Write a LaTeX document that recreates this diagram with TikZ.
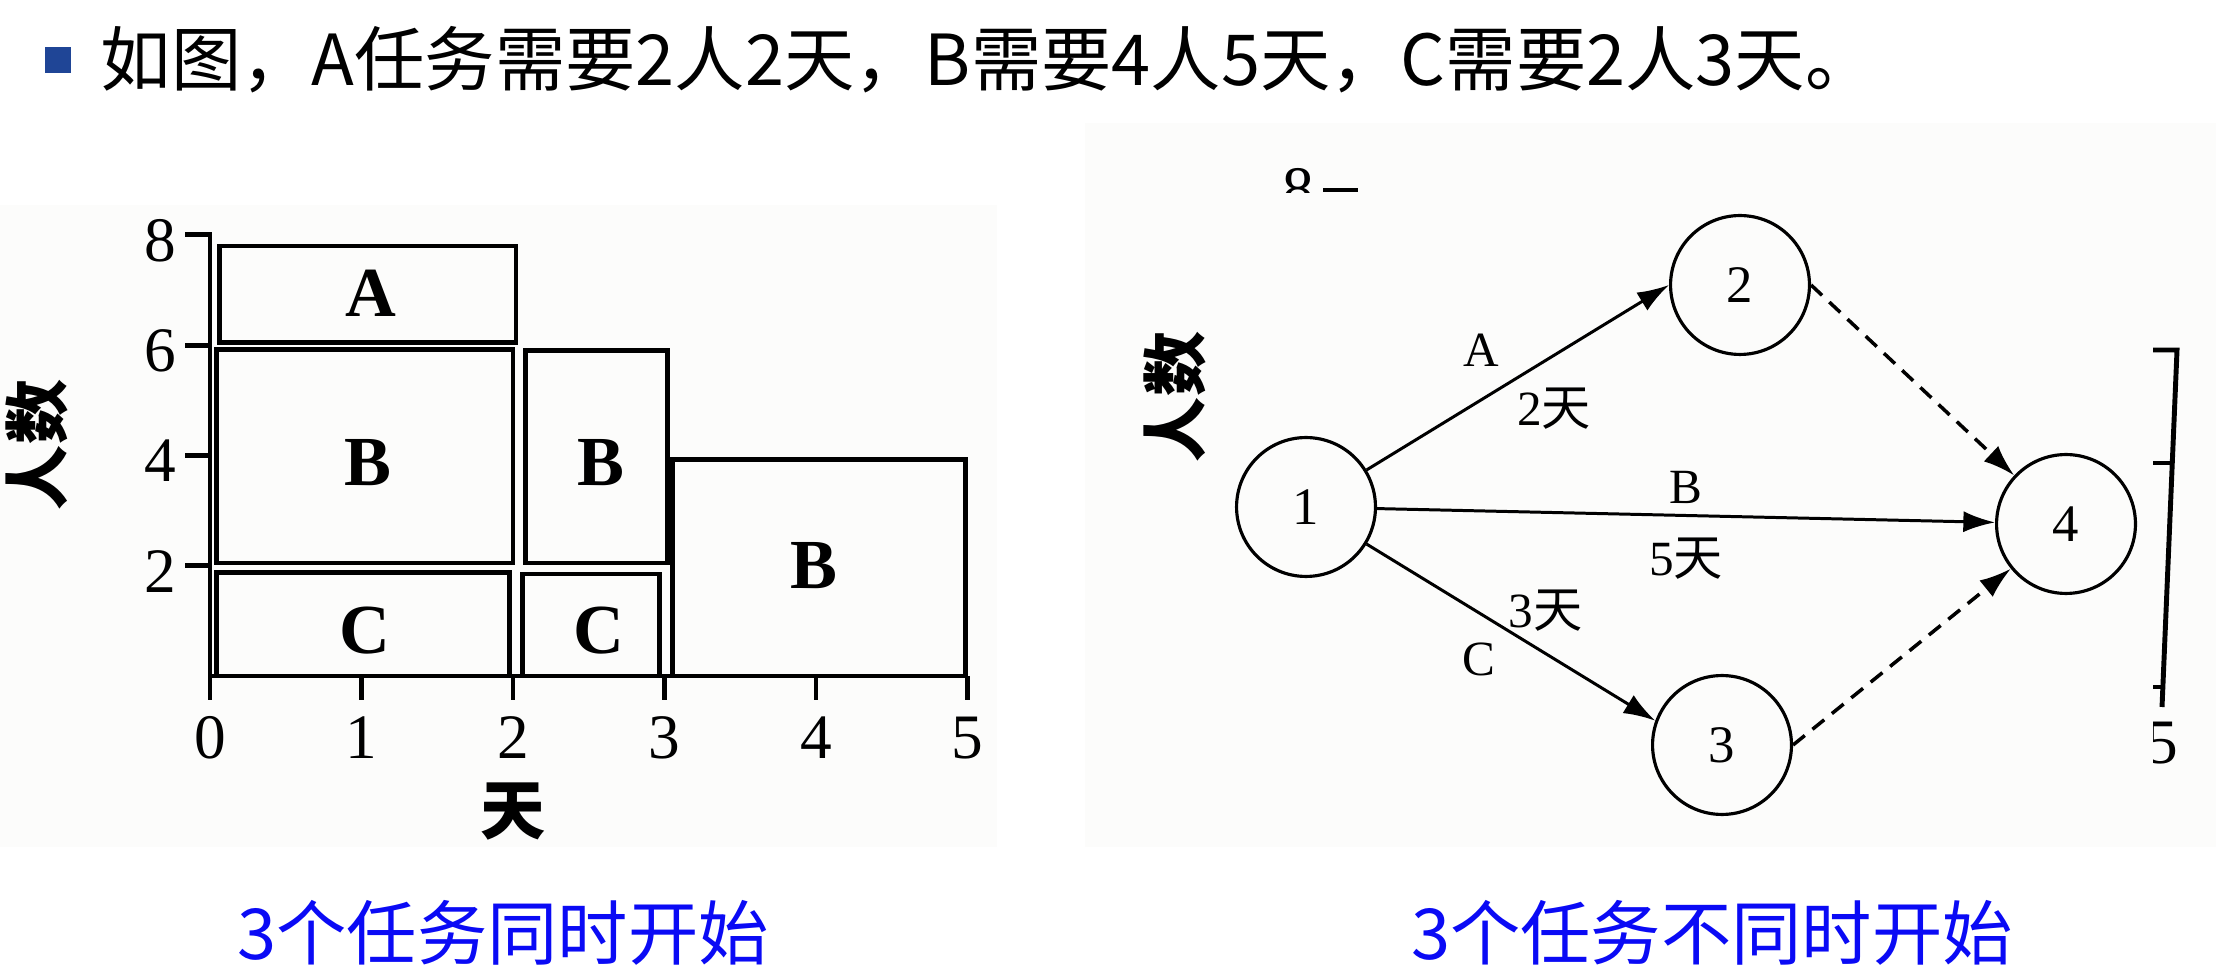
\documentclass[tikz,border=0pt]{standalone}
\usepackage{fontspec}
\setmainfont{Liberation Serif}
\newfontfamily\cjk{Noto Sans CJK SC}
\usetikzlibrary{arrows.meta,positioning}
\definecolor{bulletblue}{RGB}{31,69,150}
\definecolor{capblue}{RGB}{10,10,245}
\definecolor{scan}{RGB}{252,252,251}

\begin{document}
\begin{tikzpicture}[x=0.01cm,y=-0.01cm,>={Latex[length=9pt,width=6pt]},every node/.append style={align=center},
  heading/.style={font=\cjk\fontsize{20}{24}\selectfont, inner sep=0pt},
  caption/.style={font=\cjk\fontsize{20}{24}\selectfont, text=capblue, inner sep=0pt},
  bar/.style={draw, line width=1.4pt},
  barlbl/.style={font=\fontsize{20}{20}\selectfont\bfseries, inner sep=0pt},
  ticklbl/.style={font=\fontsize{18}{18}\selectfont, inner sep=0pt},
  axislbl/.style={font=\cjk\bfseries\fontsize{18.5}{18.5}\selectfont, inner sep=0pt},
  state/.style={circle, draw, line width=0.9pt, minimum size=39.5pt, inner sep=0pt, font=\fontsize{15}{15}\selectfont},
  lbl/.style={font=\fontsize{14}{14}\selectfont, inner sep=1pt},
  dep/.style={->, line width=0.85pt},
  dummy/.style={->, dash pattern=on 4.3pt off 2.8pt, line width=1pt}]
    \fill[scan] (0,205) rectangle (997,847);
    \fill[scan] (1085,123) rectangle (2216,847);
    \useasboundingbox (0,0) rectangle (2216,980);

    \fill[bulletblue] (45,47) rectangle (71,73);
    \node [heading, anchor=west] (title) at (100,60) {如图，A任务需要2人2天，B需要4人5天，C需要2人3天。};
    \node [caption] (capL) at (503,933) {3个任务同时开始};
    \node [caption] (capR) at (1712,933) {3个任务不同时开始};

    \begin{scope}[shift={(210,676)}, x=1.514cm, y=0.551cm]
    \draw[line width=1.4pt] (-0.165,8) -- (0,8) -- (0,-0.43);
    \draw[line width=1.4pt] (0,0) -- (5,0);
    \foreach \i in {1,...,5} \draw[line width=1.4pt] (\i,0) -- (\i,-0.43);
    \foreach \j in {2,4,6} \draw[line width=1.4pt] (-0.165,\j) -- (0,\j);
    \foreach \j in {2,4,6,8} \node [ticklbl] (y\j) at (-0.33,\j-0.1) {\j};
    \foreach \i in {0,...,5} \node [ticklbl] (x\i) at (\i,-1.12) {\i};
    \draw[bar] (0.06,6.05) rectangle (2.02,7.8);
    \draw[bar] (0.04,2.05) rectangle (2.0,5.92);
    \draw[bar] (0.04,0) rectangle (1.98,1.87);
    \draw[bar] (2.08,2.05) rectangle (3.02,5.9);
    \draw[bar] (2.06,0) rectangle (2.97,1.85);
    \draw[bar] (3.05,0) rectangle (4.99,3.92);
    \node [barlbl] (a1) at (1.06,6.95) {A};
    \node [barlbl] (b1) at (1.04,3.87) {B};
    \node [barlbl] (c1) at (1.02,0.83) {C};
    \node [barlbl] (b2) at (2.58,3.87) {B};
    \node [barlbl] (c2) at (2.57,0.83) {C};
    \node [barlbl] (b3) at (3.99,2.01) {B};
    \node [axislbl] (days) at (2.0,-2.45) {天};
    \node [axislbl, rotate=90] (people) at (-1.14,4.19) {人数};
    \end{scope}

    \node [axislbl, rotate=90] (people2) at (1175,397) {人数};
    \begin{scope}
    \clip (1270,150) rectangle (1370,193);
    \node [ticklbl] (top8) at (1298,190) {8};
    \draw[line width=1.4pt] (1323,190) -- (1358,190);
    \end{scope}
    \draw[line width=1.4pt] (2153,350) -- (2177,350) -- (2162,707);
    \draw[line width=1.4pt] (2153,463) -- (2173,463);
    \draw[line width=1.4pt] (2153,687) -- (2164,687);
    \begin{scope}
    \clip (2153,700) rectangle (2216,800);
    \node [ticklbl] (side5) at (2162,743) {5};
    \end{scope}

    \node [state] (n1) at (1306,507) {1};
    \node [state] (n2) at (1740,285) {2};
    \node [state] (n3) at (1722,745) {3};
    \node [state] (n4) at (2066,524) {4};
    \path[dep] (n1) edge node[lbl, pos=.38, above=8pt] {A} node[lbl, pos=.62, below=8pt] {2{\cjk 天}} (n2.west);
    \path[dep] (n1) edge node[lbl, above=2pt] {B} node[lbl, below=5pt] {5{\cjk 天}} (n4);
    \path[dep] (n1) edge node[lbl, pos=.62, above=5pt] {3{\cjk 天}} node[lbl, pos=.39, below=7pt] {C} (n3.160);
    \path[dummy] (n2.east) edge (n4);
    \path[dummy] (n3.east) edge (n4);
\end{tikzpicture}
\end{document}
